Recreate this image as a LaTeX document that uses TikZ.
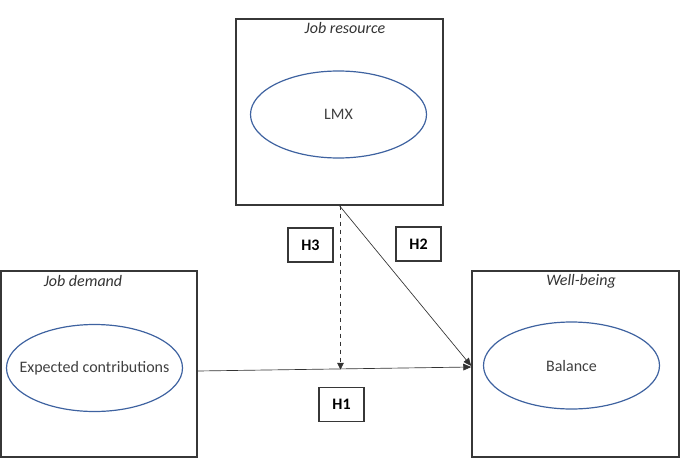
\documentclass[tikz,border=0pt]{standalone}
\usepackage{fontspec}
\setmainfont{Carlito}
\usepackage{tikz}
\usetikzlibrary{arrows.meta,shapes.geometric}
\definecolor{ovalblue}{RGB}{62,98,160}
\definecolor{boxgray}{RGB}{55,55,55}
\tikzstyle{box}=[draw=boxgray, line width=1.1pt, minimum width=155.25pt, minimum height=139.5pt]
\tikzstyle{oval}=[ellipse, draw=ovalblue, line width=0.9pt, inner sep=0pt, minimum width=132pt, minimum height=65.25pt]
\tikzstyle{ovaltext}=[font=\fontsize{12}{14}\selectfont, text=black!75]
\tikzstyle{title}=[font=\fontsize{12}{14}\selectfont\itshape, text=black!80]
\tikzstyle{hyp}=[draw=boxgray, line width=0.8pt, minimum width=33.75pt, minimum height=25.5pt, font=\fontsize{12}{14}\selectfont\bfseries]
\tikzstyle{arrow}=[draw=black!80, line width=0.5pt, -{Triangle[length=6pt, width=5pt]}]

\begin{document}
\begin{tikzpicture}[x=0.75pt, y=-0.75pt]
		   \useasboundingbox (0,0) rectangle (681,460);
		   \begin{scope}
			   \node (resource) at (339.5, 112)[box] {};
			   \node (demand) at (99, 364)[box, minimum width=147pt] {};
			   \node (wellbeing) at (575.5, 364)[box] {};

			   \node (restitle) at (345, 28)[title] {Job resource};
			   \node (demtitle) at (83, 281)[title] {Job demand};
			   \node (welltitle) at (581, 281)[title] {Well-being};

			   \node (lmx) at (338.5, 114.5)[oval, label={[ovaltext]center:LMX}] {};
			   \node (contrib) at (94.5, 368)[oval, label={[ovaltext]center:Expected contributions}] {};
			   \node (balance) at (571.5, 365.5)[oval, label={[ovaltext]center:Balance}] {};

			   \node (h3) at (310.5, 245)[hyp] {H3};
			   \node (h2) at (418.5, 244)[hyp] {H2};
			   \node (h1) at (341.5, 404.5)[hyp] {H1};

			   \coordinate (mod) at (340.5, 369.5);
		   \end{scope}
		   \begin{scope}
			   \draw [arrow] ([yshift=-5.25pt]demand.east) -- ([yshift=-2.25pt]wellbeing.west);
			   \draw [arrow] (resource.south) -- ([yshift=-1.5pt]wellbeing.west);
			   \draw [arrow, dashed, -{Triangle[length=5pt, width=5pt]}] ([xshift=0.75pt]resource.south) -- (mod);
		   \end{scope}
	   \end{tikzpicture}
\end{document}
